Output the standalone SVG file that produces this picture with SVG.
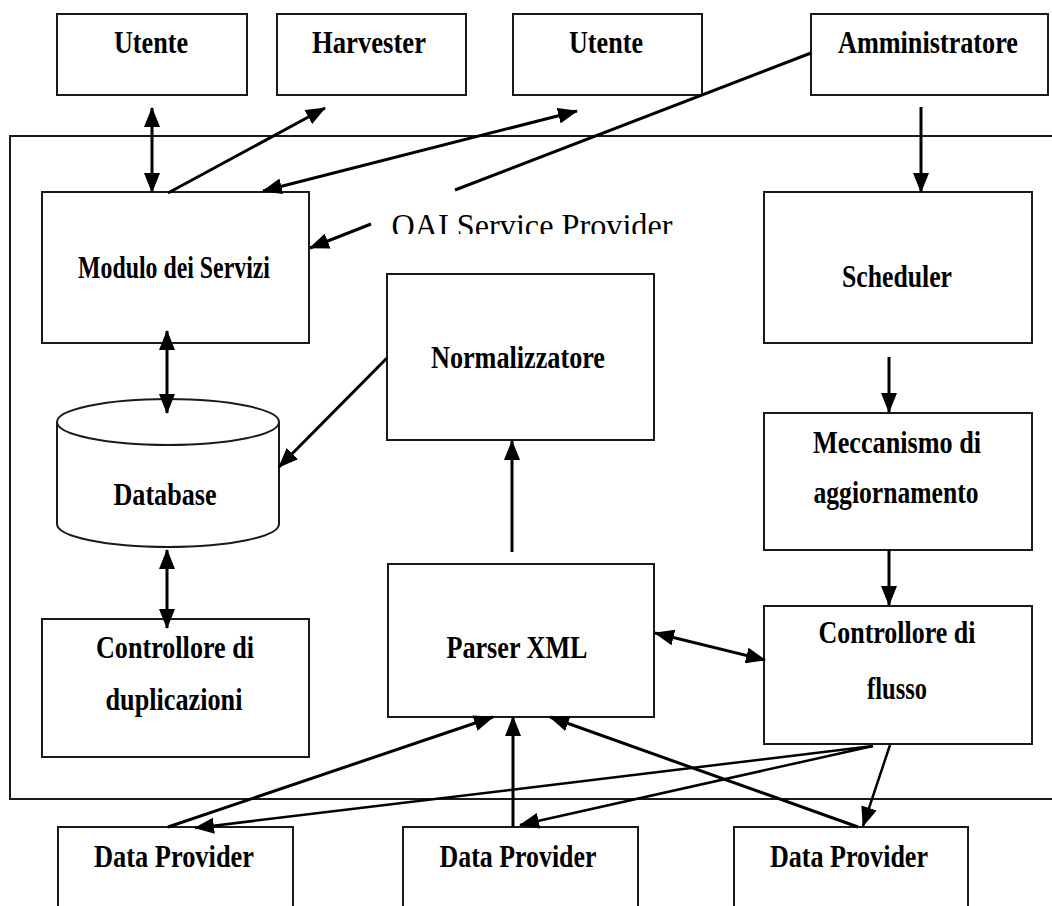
<svg xmlns="http://www.w3.org/2000/svg" width="1052" height="906" viewBox="0 0 1052 906">
<style>
.box{fill:#fff;stroke:#1a1a1a;stroke-width:2}
.lbl{font-family:"Liberation Serif","Times New Roman",serif;font-weight:bold;font-size:31px;text-anchor:middle;fill:#000}
.ttl{font-family:"Liberation Serif","Times New Roman",serif;font-size:33px;text-anchor:middle;fill:#000}
.c{stroke:#000;stroke-width:3;fill:none}
.t{stroke:#000;stroke-width:2.5;fill:none}
.e{marker-end:url(#ah)}
.b{marker-start:url(#ahs);marker-end:url(#ah)}
</style>
<defs>
<marker id="ah" markerUnits="userSpaceOnUse" markerWidth="20" markerHeight="16" refX="19" refY="8" orient="auto"><path d="M0,0 L20,8 L0,16 z" fill="#000"/></marker>
<marker id="ahs" markerUnits="userSpaceOnUse" markerWidth="20" markerHeight="16" refX="19" refY="8" orient="auto-start-reverse"><path d="M0,0 L20,8 L0,16 z" fill="#000"/></marker>
<clipPath id="clipTitle"><rect x="300" y="195" width="420" height="39"/></clipPath>
</defs>
<rect width="1052" height="906" fill="#fff"/>
<g id="service-provider">
<rect x="10" y="136" width="1060" height="663" fill="none" stroke="#1a1a1a" stroke-width="2"/>
<text class="ttl" x="532" y="237" textLength="281" lengthAdjust="spacingAndGlyphs" clip-path="url(#clipTitle)">OAI Service Provider</text>
</g>
<g id="utente1"><rect class="box" x="57" y="14" width="190" height="81"/><text class="lbl" x="151" y="53" textLength="74" lengthAdjust="spacingAndGlyphs">Utente</text></g>
<g id="harvester"><rect class="box" x="277" y="14" width="189" height="81"/><text class="lbl" x="369" y="53" textLength="114" lengthAdjust="spacingAndGlyphs">Harvester</text></g>
<g id="utente2"><rect class="box" x="513" y="14" width="189" height="81"/><text class="lbl" x="606" y="53" textLength="74" lengthAdjust="spacingAndGlyphs">Utente</text></g>
<g id="amministratore"><rect class="box" x="811" y="14" width="237" height="81"/><text class="lbl" x="928" y="53" textLength="180" lengthAdjust="spacingAndGlyphs">Amministratore</text></g>
<g id="modulo"><rect class="box" x="42" y="192" width="267" height="151"/><text class="lbl" x="174" y="278" textLength="192" lengthAdjust="spacingAndGlyphs">Modulo dei Servizi</text></g>
<g id="scheduler"><rect class="box" x="764" y="192" width="268" height="151"/><text class="lbl" x="897" y="287" textLength="110" lengthAdjust="spacingAndGlyphs">Scheduler</text></g>
<g id="normalizzatore"><rect class="box" x="387" y="274" width="267" height="166"/><text class="lbl" x="518" y="368" textLength="174" lengthAdjust="spacingAndGlyphs">Normalizzatore</text></g>
<g id="database">
<path d="M57,422 L57,524 A111,23 0 0 0 279,524 L279,422" fill="#fff" stroke="#1a1a1a" stroke-width="2"/>
<ellipse cx="168" cy="422" rx="111" ry="23" fill="#fff" stroke="#1a1a1a" stroke-width="2"/>
<text class="lbl" x="165" y="505" textLength="103" lengthAdjust="spacingAndGlyphs">Database</text>
</g>
<g id="meccanismo"><rect class="box" x="764" y="413" width="268" height="137"/><text class="lbl" x="897" y="453" textLength="168" lengthAdjust="spacingAndGlyphs">Meccanismo di</text><text class="lbl" x="896" y="503" textLength="165" lengthAdjust="spacingAndGlyphs">aggiornamento</text></g>
<g id="parser"><rect class="box" x="388" y="564" width="266" height="153"/><text class="lbl" x="517" y="658" textLength="141" lengthAdjust="spacingAndGlyphs">Parser XML</text></g>
<g id="controllore-flusso"><rect class="box" x="764" y="606" width="268" height="138"/><text class="lbl" x="897" y="643" textLength="157" lengthAdjust="spacingAndGlyphs">Controllore di</text><text class="lbl" x="897" y="699" textLength="60" lengthAdjust="spacingAndGlyphs">flusso</text></g>
<g id="controllore-dup"><rect class="box" x="42" y="619" width="267" height="138"/><text class="lbl" x="175" y="658" textLength="158" lengthAdjust="spacingAndGlyphs">Controllore di</text><text class="lbl" x="174" y="710" textLength="137" lengthAdjust="spacingAndGlyphs">duplicazioni</text></g>
<g id="dp1"><rect class="box" x="58" y="827" width="235" height="100"/><text class="lbl" x="174" y="867" textLength="160" lengthAdjust="spacingAndGlyphs">Data Provider</text></g>
<g id="dp2"><rect class="box" x="403" y="827" width="235" height="100"/><text class="lbl" x="518" y="867" textLength="157" lengthAdjust="spacingAndGlyphs">Data Provider</text></g>
<g id="dp3"><rect class="box" x="734" y="827" width="234" height="100"/><text class="lbl" x="849" y="867" textLength="158" lengthAdjust="spacingAndGlyphs">Data Provider</text></g>
<g id="connectors">
<line class="c b" x1="152" y1="108" x2="152" y2="192"/>
<line class="c e" x1="168" y1="193" x2="325" y2="108"/>
<line class="c b" x1="263" y1="191" x2="577" y2="111"/>
<line class="c" x1="811" y1="53" x2="455" y2="190"/>
<line class="c e" x1="371" y1="224" x2="310" y2="248"/>
<line class="c e" x1="921" y1="107" x2="921" y2="192"/>
<line class="c b" x1="167" y1="331" x2="167" y2="413"/>
<line class="c e" x1="387" y1="358" x2="279" y2="467"/>
<line class="c e" x1="512" y1="552" x2="512" y2="441"/>
<line class="c b" x1="167" y1="550" x2="167" y2="628"/>
<line class="c e" x1="889" y1="357" x2="889" y2="412"/>
<line class="c e" x1="889" y1="550" x2="889" y2="605"/>
<line class="c b" x1="655" y1="633" x2="765" y2="660"/>
<line class="c e" x1="168" y1="827" x2="493" y2="717"/>
<line class="c e" x1="513" y1="827" x2="513" y2="717"/>
<line class="c e" x1="858" y1="827" x2="550" y2="717"/>
<line class="t e" x1="873" y1="746" x2="195" y2="828"/>
<line class="t e" x1="873" y1="746" x2="520" y2="825"/>
<line class="t e" x1="890" y1="745" x2="863" y2="826"/>
</g>
</svg>
